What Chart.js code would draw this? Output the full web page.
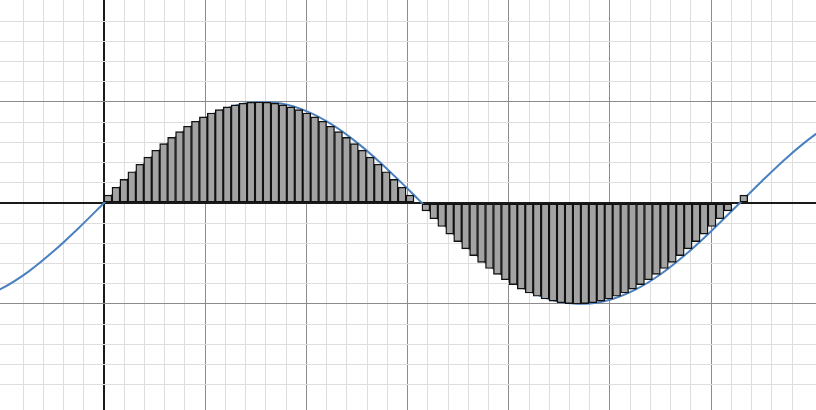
<!DOCTYPE html>
<html>
<head>
<meta charset="utf-8">
<script src="https://cdn.jsdelivr.net/npm/chart.js@4"></script>
<style>
  html, body { margin: 0; padding: 0; background: #fff; }
  #wrap { width: 816px; height: 410px; }
</style>
</head>
<body>
<div id="wrap"><canvas id="c"></canvas></div>
<script>
const curveX = [-1.25, -1, -0.75, -0.5, -0.25, 0, 0.25, 0.5, 0.75, 1, 1.25, 1.5, 1.75, 2, 2.25, 2.5, 2.75, 3,
  3.25, 3.5, 3.75, 4, 4.25, 4.5, 4.75, 5, 5.25, 5.5, 5.75, 6, 6.25, 6.5, 6.75, 7, 7.25];
const curveY = [-0.949, -0.841, -0.682, -0.479, -0.247, 0, 0.247, 0.479, 0.682, 0.841, 0.949, 0.997, 0.984,
  0.909, 0.778, 0.598, 0.382, 0.141, -0.108, -0.351, -0.572, -0.757, -0.895, -0.978, -0.999, -0.959,
  -0.859, -0.706, -0.508, -0.279, -0.033, 0.215, 0.451, 0.657, 0.823];

// rectángulos (suma de Riemann, extremo derecho), ancho = 2π/80
const barWidth = 0.0785398;
const barHeights = [
  0.078, 0.156, 0.233, 0.309, 0.383, 0.454, 0.522, 0.588, 0.649, 0.707,
  0.760, 0.809, 0.853, 0.891, 0.924, 0.951, 0.972, 0.988, 0.997, 1.000,
  0.997, 0.988, 0.972, 0.951, 0.924, 0.891, 0.853, 0.809, 0.760, 0.707,
  0.649, 0.588, 0.522, 0.454, 0.383, 0.309, 0.233, 0.156, 0.078, 0.000,
  -0.078, -0.156, -0.233, -0.309, -0.383, -0.454, -0.522, -0.588, -0.649, -0.707,
  -0.760, -0.809, -0.853, -0.891, -0.924, -0.951, -0.972, -0.988, -0.997, -1.000,
  -0.997, -0.988, -0.972, -0.951, -0.924, -0.891, -0.853, -0.809, -0.760, -0.707,
  -0.649, -0.588, -0.522, -0.454, -0.383, -0.309, -0.233, -0.156, -0.078, 0.000,
  0.078
];

const xRange = [-1.028, 7.036];
const yRange = [-2.05, 2.01];

const curvePoints = curveX.map((x, i) => ({ x: x, y: curveY[i] }));
const barPoints = barHeights.map((h, i) => ({ x: (i + 0.5) * barWidth, y: h }));

// color de la cuadrícula: principal cada 1, secundaria cada 0.2, ejes en negro
function gridColor(ctx) {
  if (!ctx.tick) return 'rgba(0,0,0,0)';
  const v = ctx.tick.value;
  const k = v * 5;
  if (Math.abs(k - Math.round(k)) > 1e-6) return 'rgba(0,0,0,0)';
  if (Math.abs(v) < 1e-6) return '#1a1a1a';
  if (Math.abs(v - Math.round(v)) < 1e-6) return '#8c8c8c';
  return '#dedede';
}
function gridWidth(ctx) {
  if (!ctx.tick) return 1;
  return Math.abs(ctx.tick.value) < 1e-6 ? 2 : 1;
}

const axisBase = {
  type: 'linear',
  border: { display: false },
  grid: { color: gridColor, lineWidth: gridWidth, drawTicks: false, offset: false },
  ticks: { display: false, stepSize: 0.2, maxTicksLimit: 1000 }
};

new Chart(document.getElementById('c'), {
  type: 'bar',
  data: {
    datasets: [{
      type: 'bar',
      data: barPoints,
      backgroundColor: '#a3a3a3',
      borderColor: '#111',
      borderWidth: 1.4,
      borderSkipped: false,
      barPercentage: 1,
      categoryPercentage: 1
    }, {
      type: 'line',
      data: curvePoints,
      borderColor: '#4a80c0',
      borderWidth: 2,
      pointRadius: 0,
      cubicInterpolationMode: 'monotone',
      fill: false
    }]
  },
  options: {
    responsive: true,
    maintainAspectRatio: false,
    animation: false,
    layout: { padding: 0 },
    plugins: { legend: { display: false }, tooltip: { enabled: false } },
    scales: {
      x: Object.assign({}, axisBase, { min: xRange[0], max: xRange[1], offset: false }),
      y: Object.assign({}, axisBase, { min: yRange[0], max: yRange[1] })
    }
  }
});
</script>
</body>
</html>
